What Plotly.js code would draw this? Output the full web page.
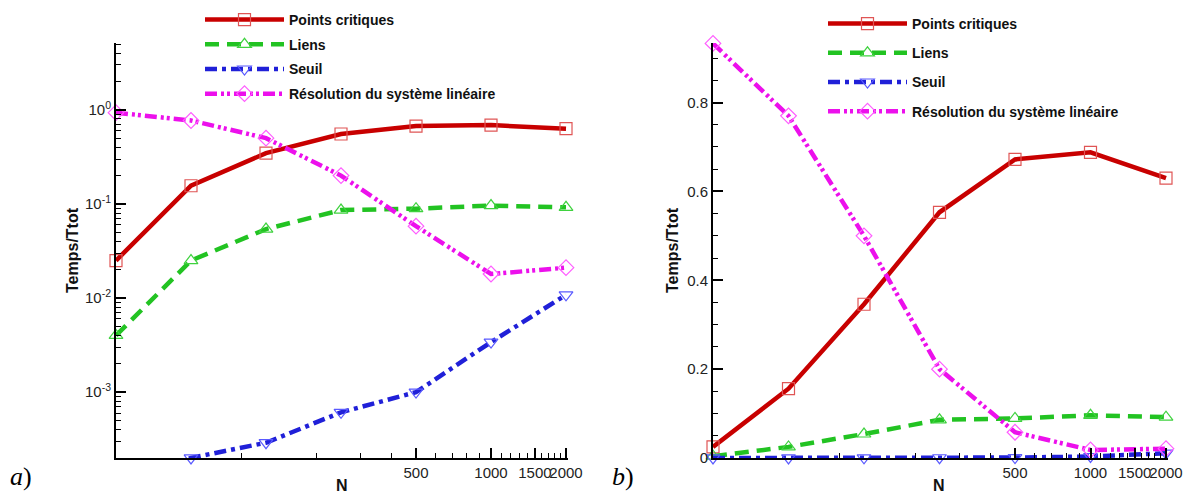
<!DOCTYPE html>
<html>
<head>
<meta charset="utf-8">
<script src="https://cdn.plot.ly/plotly-3.0.1.min.js"></script>
<style>
  html, body { margin: 0; padding: 0; background: #fff; }
  #chart { width: 1196px; height: 501px; }
</style>
</head>
<body>
<div id="chart"></div>
<script>
// Problem size and share of total run time spent in each stage
const N = [31.25, 62.5, 125, 250, 500, 1000, 2000];
const pointsCritiques = [0.025, 0.156, 0.346, 0.553, 0.672, 0.688, 0.630];
const liens = [0.0040, 0.025, 0.054, 0.086, 0.089, 0.096, 0.092];
const seuil = [0.0001, 0.00020, 0.00029, 0.00061, 0.00100, 0.0034, 0.0108];
const resolution = [0.933, 0.770, 0.500, 0.200, 0.058, 0.018, 0.021];

const seriesNames = ['Points critiques', 'Liens', 'Seuil', 'Résolution du système linéaire'];
const seriesValues = [pointsCritiques, liens, seuil, resolution];

// Axis tick labels
const xTickVals = [500, 1000, 1500, 2000];
const xTickText = ['500', '1000', '1500', '2000'];
const logTickVals = [1e-3, 1e-2, 1e-1, 1];
const logTickText = ['10<sup>-3</sup>', '10<sup>-2</sup>', '10<sup>-1</sup>', '10<sup>0</sup>'];
const linTickVals = [0, 0.2, 0.4, 0.6, 0.8];
const linTickText = ['0', '0.2', '0.4', '0.6', '0.8'];

const styles = [
  { color: '#c80000', dash: 'solid', symbol: 'square-open', mcolor: '#e05555' },
  { color: '#22c322', dash: '14px,8px', symbol: 'triangle-up-open', mcolor: '#3fd23f' },
  { color: '#2020d8', dash: '12px,5px,4px,5px', symbol: 'triangle-down-open', mcolor: '#5a5aff' },
  { color: '#ec10ec', dash: '12px,4px,3px,3px,3px,4px', symbol: 'diamond-open', mcolor: '#ff5cff' }
];

// minor tick positions
const xMinor = [];
for (let v = 100; v <= 2000; v += 100) if (xTickVals.indexOf(v) < 0) xMinor.push(v);
const yLogMinor = [];
for (let e = -4; e <= 0; e++) for (let m = 2; m <= 9; m++) yLogMinor.push(m * Math.pow(10, e));
const yLinMinor = [];
for (let k = 1; k <= 18; k++) if (k % 4 !== 0) yLinMinor.push(k * 0.05);

const FONT = 'Liberation Sans, Arial, sans-serif';
const W = 1196, H = 501;
const px = v => v / W;
const py = v => 1 - v / H;

const traces = [];
[['x', 'y', 'legend'], ['x2', 'y2', 'legend2']].forEach(([xa, ya, lg]) => {
  seriesValues.forEach((vals, i) => {
    const s = styles[i];
    traces.push({
      type: 'scatter', mode: 'lines+markers',
      x: N, y: vals, xaxis: xa, yaxis: ya,
      name: seriesNames[i], legend: lg, legendgroup: lg + i,
      cliponaxis: false,
      line: { color: s.color, width: 4.5, dash: s.dash },
      marker: { symbol: s.symbol, size: 12, color: s.mcolor, line: { width: 1.2, color: s.mcolor } },
      hoverinfo: 'x+y+name'
    });
  });
});

function xAxis(domain, anchor) {
  return {
    domain: domain, anchor: anchor, type: 'log',
    range: [Math.log10(31.25), 3.309],
    tickmode: 'array', tickvals: xTickVals, ticktext: xTickText,
    ticks: 'inside', ticklen: 10, tickwidth: 2, tickcolor: '#000',
    showline: true, linewidth: 2, linecolor: '#000',
    showgrid: false, zeroline: false, tickangle: 0,
    tickfont: { family: FONT, size: 15, color: '#222' },
    minor: { tickvals: xMinor, ticks: 'inside', ticklen: 5, tickwidth: 1, tickcolor: '#000', showgrid: false }
  };
}
function yAxis(domain, anchor, extra) {
  return Object.assign({
    domain: domain, anchor: anchor,
    ticks: 'inside', ticklen: 10, tickwidth: 2, tickcolor: '#000',
    showline: true, linewidth: 2, linecolor: '#000',
    showgrid: false, zeroline: false,
    tickfont: { family: FONT, size: 15, color: '#222' }
  }, extra);
}

const yDom = [py(458), py(43)];
const titleFont = { family: FONT, size: 16, weight: 'bold', color: '#111' };
const legendFont = { family: FONT, size: 14, weight: 'bold', color: '#111' };
const tagFont = { family: 'Liberation Serif, DejaVu Serif, serif', size: 26, color: '#000' };

function label(text, x, y, extra) {
  return Object.assign({ text: text, xref: 'paper', yref: 'paper', x: px(x), y: py(y),
    xanchor: 'center', yanchor: 'middle', showarrow: false, font: titleFont }, extra || {});
}

const layout = {
  width: W, height: H,
  margin: { l: 0, r: 0, t: 0, b: 0 },
  paper_bgcolor: '#fff', plot_bgcolor: '#fff',
  showlegend: true,
  xaxis: xAxis([px(116), px(568)], 'y'),
  yaxis: yAxis(yDom, 'x', {
    type: 'log', range: [-3.70, 0.710],
    tickmode: 'array', tickvals: logTickVals, ticktext: logTickText,
    minor: { tickvals: yLogMinor, ticks: 'inside', ticklen: 5, tickwidth: 1, tickcolor: '#000', showgrid: false }
  }),
  xaxis2: xAxis([px(713), px(1168)], 'y2'),
  yaxis2: yAxis(yDom, 'x2', {
    type: 'linear', range: [0, 0.934],
    tickmode: 'array', tickvals: linTickVals, ticktext: linTickText,
    minor: { tickvals: yLinMinor, ticks: 'inside', ticklen: 5, tickwidth: 1, tickcolor: '#000', showgrid: false }
  }),
  legend: {
    x: px(200), y: py(4), xanchor: 'left', yanchor: 'top',
    itemwidth: 79, tracegroupgap: 3.5, traceorder: 'grouped',
    bgcolor: 'rgba(0,0,0,0)', font: legendFont
  },
  legend2: {
    x: px(823), y: py(8), xanchor: 'left', yanchor: 'top',
    itemwidth: 79, tracegroupgap: 8, traceorder: 'grouped',
    bgcolor: 'rgba(0,0,0,0)', font: legendFont
  },
  annotations: [
    label('Temps/Ttot', 72, 250, { textangle: -90 }),
    label('Temps/Ttot', 672, 250, { textangle: -90 }),
    label('N', 342, 485),
    label('N', 939, 485),
    label('<i>a</i>)', 8, 476, { xanchor: 'left', font: tagFont }),
    label('<i>b</i>)', 610, 476, { xanchor: 'left', font: tagFont })
  ]
};

Plotly.newPlot('chart', traces, layout, { displayModeBar: false, staticPlot: true });
</script>
</body>
</html>
